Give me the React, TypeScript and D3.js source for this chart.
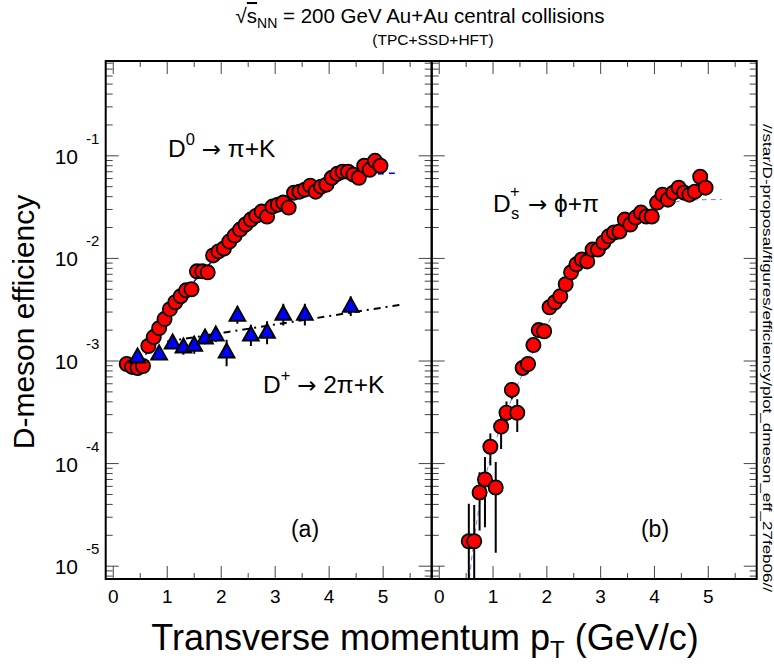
import React from 'react';
import * as d3 from 'd3';

// ---------- data ----------
const d0Pt = [0.25, 0.35, 0.45, 0.55, 0.65, 0.75, 0.85, 0.95, 1.05, 1.15, 1.25, 1.35, 1.45, 1.55, 1.65, 1.75, 1.85, 1.95, 2.05, 2.15, 2.25, 2.35, 2.45, 2.55, 2.65, 2.75, 2.85, 2.95, 3.05, 3.15, 3.25, 3.35, 3.45, 3.55, 3.65, 3.75, 3.85, 3.95, 4.05, 4.15, 4.25, 4.35, 4.45, 4.55, 4.65, 4.75, 4.85, 4.95];
const d0Eff = [9.35e-4, 8.75e-4, 8.55e-4, 8.94e-4, 1.40e-3, 1.71e-3, 2.09e-3, 2.56e-3, 3.20e-3, 3.74e-3, 4.28e-3, 4.89e-3, 5.00e-3, 7.48e-3, 7.48e-3, 7.31e-3, 1.07e-2, 1.17e-2, 1.25e-2, 1.46e-2, 1.67e-2, 1.91e-2, 2.14e-2, 2.39e-2, 2.61e-2, 2.86e-2, 2.56e-2, 3.20e-2, 3.34e-2, 3.50e-2, 3.13e-2, 4.37e-2, 4.47e-2, 4.68e-2, 5.12e-2, 4.47e-2, 5.00e-2, 5.23e-2, 6.11e-2, 6.68e-2, 7.00e-2, 7.00e-2, 6.55e-2, 6.11e-2, 8.0e-2, 7.31e-2, 8.94e-2, 8.0e-2];

const dpPt = [0.45, 0.85, 1.1, 1.3, 1.5, 1.7, 1.9, 2.1, 2.3, 2.55, 2.85, 3.15, 3.55, 4.4];
const dpEff = [1.12e-3, 1.20e-3, 1.53e-3, 1.40e-3, 1.46e-3, 1.71e-3, 1.83e-3, 1.25e-3, 2.86e-3, 1.83e-3, 1.95e-3, 2.92e-3, 2.92e-3, 3.50e-3];
const dpErr = [1.5e-4, 1.5e-4, 2.0e-4, 2.5e-4, 2.8e-4, 2.5e-4, 3.0e-4, 3.6e-4, 5.5e-4, 4.3e-4, 4.9e-4, 7.0e-4, 7.0e-4, 7.5e-4];

const dsPt = [0.55, 0.65, 0.75, 0.85, 0.95, 1.05, 1.15, 1.25, 1.35, 1.45, 1.55, 1.65, 1.75, 1.85, 1.95, 2.05, 2.15, 2.25, 2.35, 2.45, 2.55, 2.65, 2.75, 2.85, 2.95, 3.05, 3.15, 3.25, 3.35, 3.45, 3.55, 3.65, 3.75, 3.85, 3.95, 4.05, 4.15, 4.25, 4.35, 4.45, 4.55, 4.65, 4.75, 4.85, 4.95];
const dsEff = [1.75e-5, 1.75e-5, 5.23e-5, 7.0e-5, 1.46e-4, 5.85e-5, 2.29e-4, 3.13e-4, 5.23e-4, 3.13e-4, 8.55e-4, 9.35e-4, 1.43e-3, 2.0e-3, 1.95e-3, 3.34e-3, 3.74e-3, 4.28e-3, 5.6e-3, 7.31e-3, 8.75e-3, 9.77e-3, 9.35e-3, 1.22e-2, 1.22e-2, 1.43e-2, 1.64e-2, 1.79e-2, 1.83e-2, 2.39e-2, 2.14e-2, 2.50e-2, 2.80e-2, 2.56e-2, 2.56e-2, 3.50e-2, 4.18e-2, 3.74e-2, 4.37e-2, 4.89e-2, 4.37e-2, 4.18e-2, 4.47e-2, 6.25e-2, 4.89e-2];
const dsErr = [2.3e-5, 2.2e-5, 3.0e-5, 4.6e-5, 5.0e-5, 4.5e-5, 9.0e-5, 9.0e-5, 1.0e-4, 1.1e-4, 1.2e-4, 1.3e-4, 1.5e-4, 1.8e-4, 1.8e-4, 2.5e-4, 2.6e-4, 2.8e-4, 3.3e-4, 4.0e-4, 4.5e-4, 5.0e-4, 5.0e-4, 6.0e-4, 6.0e-4, 7.0e-4, 8.0e-4, 9.0e-4, 9.0e-4, 1.1e-3, 1.1e-3, 1.2e-3, 1.4e-3, 1.3e-3, 1.3e-3, 1.7e-3, 2.0e-3, 1.9e-3, 2.2e-3, 2.5e-3, 2.3e-3, 2.3e-3, 2.5e-3, 3.3e-3, 3.0e-3];

const d0FitPt = [0.6, 0.8, 1.0, 1.2, 1.5, 1.8, 2.1, 2.5, 3.0, 3.5, 4.0, 4.5, 5.0, 5.3];
const d0FitEff = [1.15e-3, 1.8e-3, 2.8e-3, 3.9e-3, 6.0e-3, 9.0e-3, 1.3e-2, 2.1e-2, 3.2e-2, 4.4e-2, 5.5e-2, 6.3e-2, 6.7e-2, 6.8e-2];
const dpFitPt = [1.0, 2.1, 5.3];
const dpFitEff = [1.55e-3, 1.91e-3, 3.52e-3];
const dsFitPt = [0.56, 0.62, 0.7, 0.85, 1.0, 1.2, 1.4, 1.6, 1.8, 2.0, 2.2, 2.4, 2.7, 3.0, 3.4, 3.8, 4.2, 4.6, 5.0, 5.25];
const dsFitEff = [7.6e-6, 1.4e-5, 2.8e-5, 7.0e-5, 1.4e-4, 2.7e-4, 5.0e-4, 8.5e-4, 1.4e-3, 2.2e-3, 3.6e-3, 5.5e-3, 8.8e-3, 1.3e-2, 1.9e-2, 2.6e-2, 3.3e-2, 3.7e-2, 3.74e-2, 3.75e-2];

const xMajor = [0, 1, 2, 3, 4, 5];
const xMinor = [0.5, 1.5, 2.5, 3.5, 4.5, 5.5];
const xTickLabels = ['0', '1', '2', '3', '4', '5'];
const yDecades = [-6, -5, -4, -3, -2, -1];
const yLabelExps = [-1, -2, -3, -4, -5];

const FONT = '"Liberation Sans", Arial, Helvetica, sans-serif';
const ARROW_FONT = '"DejaVu Sans", sans-serif';

export default function App() {
  const W = 774, H = 664;
  const yTop = 61, yBot = 579;
  const xa0 = 105.7, xMid = 431.7, xb1 = 756.7;
  const xDomain = [-0.14, 5.9];
  const xA = d3.scaleLinear().domain(xDomain).range([xa0, xMid]);
  const xB = d3.scaleLinear().domain(xDomain).range([xMid, xb1]);
  const yMin = 7.5e-6, yMax = 0.84;
  const y = d3.scaleLog().domain([yMin, yMax]).range([yBot, yTop]);

  const yTicks: { v: number; major: boolean }[] = [];
  yDecades.forEach((e) => {
    for (let m = 1; m <= 9; m++) {
      const v = m * Math.pow(10, e);
      if (v >= yMin && v <= yMax) yTicks.push({ v, major: m === 1 });
    }
  });

  const mkLine = (xs: d3.ScaleLinear<number, number>) =>
    d3.line<[number, number]>().x((d) => xs(d[0])).y((d) => y(d[1])).curve(d3.curveMonotoneX);

  const zip = (a: number[], b: number[]) => a.map((v, i) => [v, b[i]] as [number, number]);

  const errBar = (xs: any, pts: number[], vals: number[], errs: number[], key: string) =>
    pts.map((p, i) => {
      const lo = Math.max(vals[i] - errs[i], yMin);
      const hi = Math.min(vals[i] + errs[i], yMax);
      return <line key={key + i} x1={xs(p)} x2={xs(p)} y1={y(lo)} y2={y(hi)} stroke="#000" strokeWidth={2} />;
    });

  const panelAxes = (xs: any, x0: number, x1: number, key: string) => {
    const els: any[] = [];
    xMajor.forEach((t, i) => {
      els.push(<line key={key + 'xb' + i} x1={xs(t)} x2={xs(t)} y1={yBot} y2={yBot - 13} stroke="#444" strokeWidth={1} />);
      els.push(<line key={key + 'xt' + i} x1={xs(t)} x2={xs(t)} y1={yTop} y2={yTop + 13} stroke="#444" strokeWidth={1} />);
    });
    xMinor.forEach((t, i) => {
      els.push(<line key={key + 'mb' + i} x1={xs(t)} x2={xs(t)} y1={yBot} y2={yBot - 6} stroke="#444" strokeWidth={1} />);
      els.push(<line key={key + 'mt' + i} x1={xs(t)} x2={xs(t)} y1={yTop} y2={yTop + 6} stroke="#444" strokeWidth={1} />);
    });
    yTicks.forEach((t, i) => {
      const L = t.major ? 13 : 7;
      els.push(<line key={key + 'yl' + i} x1={x0} x2={x0 + L} y1={y(t.v)} y2={y(t.v)} stroke="#444" strokeWidth={1} />);
      els.push(<line key={key + 'yr' + i} x1={x1} x2={x1 - L} y1={y(t.v)} y2={y(t.v)} stroke="#444" strokeWidth={1} />);
    });
    xTickLabels.forEach((lab, i) => {
      els.push(
        <text key={key + 'xl' + i} x={xs(xMajor[i])} y={603} textAnchor="middle" fontSize={19}>
          {lab}
        </text>
      );
    });
    return els;
  };

  const circle = (xs: any, p: number, v: number, k: string) => (
    <circle key={k} cx={xs(p)} cy={y(v)} r={7.1} fill="#ff0000" stroke="#000" strokeWidth={1.8} />
  );
  const tri = (xs: any, p: number, v: number, k: string) => {
    const cx = xs(p), cy = y(v);
    return (
      <path key={k} d={`M${cx},${cy - 7.5} L${cx + 7.8},${cy + 6.5} L${cx - 7.8},${cy + 6.5} Z`} fill="#0000ff" stroke="#000" strokeWidth={2} strokeLinejoin="miter" />
    );
  };

  return (
    <svg width={W} height={H} style={{ position: 'absolute', left: 0, top: 0, background: '#fff' }} fontFamily={FONT}>
      <defs>
        <clipPath id="clipA"><rect x={xa0} y={yTop} width={xMid - xa0} height={yBot - yTop} /></clipPath>
        <clipPath id="clipB"><rect x={xMid} y={yTop} width={xb1 - xMid} height={yBot - yTop} /></clipPath>
      </defs>
      <rect x={0} y={0} width={W} height={H} fill="#fff" />

      {/* title */}
      <text x={420} y={23} textAnchor="middle" fontSize={20.5}>
        <tspan>√</tspan>
        <tspan style={{ textDecoration: 'overline' }}>s</tspan>
        <tspan fontSize={14} dy={5}>NN</tspan>
        <tspan dy={-5}> = 200 GeV Au+Au central collisions</tspan>
      </text>
      <text x={433} y={45} textAnchor="middle" fontSize={15.5}>(TPC+SSD+HFT)</text>

      {/* panel axes */}
      {panelAxes(xA, xa0, xMid, 'a')}
      {panelAxes(xB, xMid, xb1, 'b')}

      {/* y tick labels */}
      {yLabelExps.map((e) => (
        <g key={'yl' + e}>
          <text x={78} y={y(Math.pow(10, e)) + 8} textAnchor="end" fontSize={21}>10</text>
          <text x={86} y={y(Math.pow(10, e)) - 12} fontSize={15}>{String(e)}</text>
        </g>
      ))}

      {/* panel a */}
      <g clipPath="url(#clipA)">
        <path d={mkLine(xA)(zip(d0FitPt, d0FitEff)) || ''} fill="none" stroke="#0000ff" strokeWidth={1.5} strokeDasharray="6,5" />
        <path d={mkLine(xA)(zip(dpFitPt, dpFitEff)) || ''} fill="none" stroke="#000" strokeWidth={2} strokeDasharray="7,5,2,5" />
        {d0Pt.map((p, i) => circle(xA, p, d0Eff[i], 'c' + i))}
        {errBar(xA, dpPt, dpEff, dpErr, 'e')}
        {dpPt.map((p, i) => tri(xA, p, dpEff[i], 't' + i))}
      </g>

      {/* panel b */}
      <g clipPath="url(#clipB)">
        <path d={mkLine(xB)(zip(dsFitPt, dsFitEff)) || ''} fill="none" stroke="#7a7aff" strokeWidth={1} strokeDasharray="5,4" />
        {errBar(xB, dsPt, dsEff, dsErr, 's')}
        {dsPt.map((p, i) => circle(xB, p, dsEff[i], 'd' + i))}
      </g>

      {/* frames */}
      <rect x={xa0} y={yTop} width={xMid - xa0} height={yBot - yTop} fill="none" stroke="#000" strokeWidth={2} />
      <rect x={xMid} y={yTop} width={xb1 - xMid} height={yBot - yTop} fill="none" stroke="#000" strokeWidth={2} />

      {/* channel labels */}
      <text x={168} y={157} fontSize={24.5}>
        D<tspan fontSize={16.5} dy={-12}>0</tspan><tspan dy={12}> </tspan><tspan fontFamily={ARROW_FONT} fontSize={23}>→</tspan><tspan> π+K</tspan>
      </text>
      <text x={263} y={393} fontSize={24.5}>
        D<tspan fontSize={16.5} dy={-12}>+</tspan><tspan dy={12}> </tspan><tspan fontFamily={ARROW_FONT} fontSize={23}>→</tspan><tspan> 2π+K</tspan>
      </text>
      <text x={493} y={212} fontSize={24.5}>D</text>
      <text x={511} y={219} fontSize={16.5}>s</text>
      <text x={510} y={197} fontSize={16.5}>+</text>
      <text x={528} y={212} fontSize={24.5}>
        <tspan fontFamily={ARROW_FONT} fontSize={23}>→</tspan><tspan> ϕ+π</tspan>
      </text>

      <text x={305} y={537} textAnchor="middle" fontSize={23}>(a)</text>
      <text x={655} y={537} textAnchor="middle" fontSize={23}>(b)</text>

      {/* axis titles */}
      <text transform={`translate(34,322) rotate(-90)`} textAnchor="middle" fontSize={30}>D-meson efficiency</text>
      <text x={425} y={650} textAnchor="middle" fontSize={36}>
        Transverse momentum p<tspan fontSize={24} dy={8}>T</tspan><tspan dy={-8}> (GeV/c)</tspan>
      </text>

      {/* file path */}
      <text transform={`translate(763,124) rotate(90)`} fontSize={12.5} textLength={468} lengthAdjust="spacingAndGlyphs">
        //star/D-proposal/figures/efficiency/plot_dmeson_eff_27feb06//
      </text>
    </svg>
  );
}
